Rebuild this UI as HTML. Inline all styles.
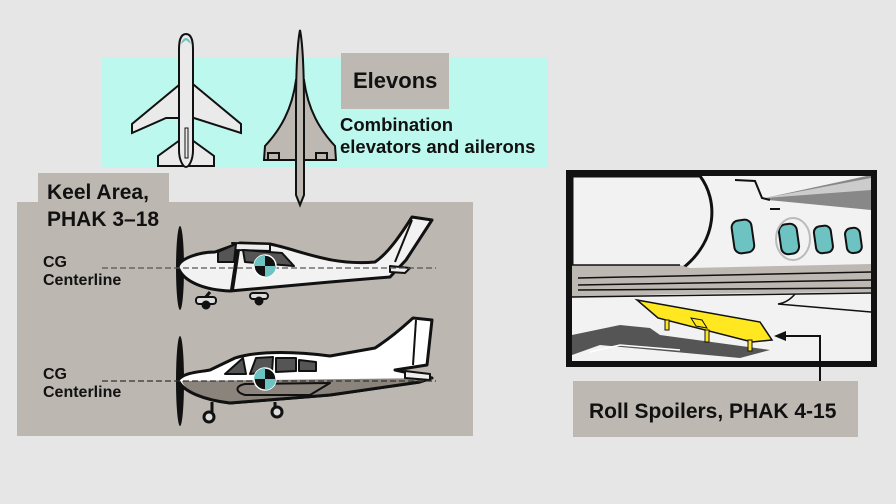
<!DOCTYPE html>
<html><head><meta charset="utf-8"><style>
html,body{margin:0;padding:0;background:#e6e6e6;}
svg{display:block;font-family:"Liberation Sans",sans-serif;}
.t{font-weight:bold;fill:#111;}
</style></head><body>
<svg width="896" height="504" viewBox="0 0 896 504">
<rect width="896" height="504" fill="#e6e6e6"/>
<rect x="102" y="57" width="446" height="110" fill="#bdf8ee"/>
<rect x="341" y="53" width="108" height="56" fill="#bdb8b2"/>
<text class="t" x="353" y="88" font-size="22">Elevons</text>
<text class="t" x="340" y="131" font-size="18.5">Combination</text>
<text class="t" x="340" y="153" font-size="18.5">elevators and ailerons</text>
<rect x="17" y="202" width="456" height="234" fill="#bcb7b1"/>
<rect x="38" y="173" width="131" height="40" fill="#bcb7b1"/>
<text class="t" x="47" y="199" font-size="21">Keel Area,</text>
<text class="t" x="47" y="226" font-size="21">PHAK 3–18</text>
<text class="t" x="43" y="267" font-size="16">CG</text>
<text class="t" x="43" y="285" font-size="16">Centerline</text>
<text class="t" x="43" y="379" font-size="16">CG</text>
<text class="t" x="43" y="397" font-size="16">Centerline</text>

<g stroke="#111" stroke-width="2" fill="#eaeaea">
<path d="M179 85 L132 124 L132 133 L166 118 L194 118 L241 133 L241 124 L194 85 Z"/>
<path d="M180 140 L158 156 L158 166 L214 166 L214 156 L192 140 Z"/>
<path d="M186 34 C180 34 179 42 179 50 L179 150 C179 160 183 167 186 167 C189 167 193 160 193 150 L193 50 C193 42 192 34 186 34 Z"/>
<rect x="185" y="128" width="3" height="30" fill="none" stroke-width="1"/>
</g>
<path d="M181 44 C183 36 189 36 191 44 L186 40 Z" fill="#6cc3c1"/>
<g stroke="#111" stroke-width="2" fill="#bdb8b2">
<path d="M296 80 C292 110 280 130 265 146 L264 160 L336 160 L335 146 C320 130 308 110 304 80 Z"/>
<rect x="268" y="153" width="11" height="7"/><rect x="316" y="153" width="11" height="7"/>
<path d="M300 30 C297 45 296 70 296 110 L296 195 L300 205 L304 195 L304 110 C304 70 303 45 300 30 Z"/>
</g>

<g stroke="#111" stroke-width="3" stroke-linejoin="round">
<ellipse cx="180" cy="268" rx="4" ry="42" fill="#111" stroke="none"/>
<path d="M178 267 C180 258 200 252 215 252 L240 243 L270 244 C300 250 330 266 375 262 C390 252 405 228 412 217 L432 220 L406 260 L390 277 L330 282 L230 291 C205 290 183 282 178 267 Z" fill="#f2f2f2"/>
<path d="M232 243 L270 244 L270 251 L236 250 Z" fill="#eee" stroke-width="2"/>
<path d="M218 252 L236 244 L234 262 L218 262 Z" fill="#555" stroke-width="2"/>
<path d="M243 250 L282 253 L294 266 L245 262 Z" fill="#555" stroke-width="2"/>
<path d="M238 250 L232 290" fill="none" stroke-width="4"/>
<path d="M390 266 L410 268 L405 273 L390 272 Z" fill="#eee" stroke-width="2"/>
<path d="M412 220 L395 262" fill="none" stroke-width="2"/>
<path d="M210 292 L205 298" stroke-width="3"/><rect x="196" y="297" width="20" height="7" rx="3" fill="#ddd" stroke-width="2"/>
<circle cx="206" cy="305" r="3" fill="#111"/>
<rect x="250" y="293" width="18" height="6" rx="3" fill="#ddd" stroke-width="2"/><circle cx="259" cy="301" r="3" fill="#111"/>
</g>
<line x1="102" y1="268" x2="436" y2="268" stroke="#555" stroke-width="1.3" stroke-dasharray="6,3"/>
<g><circle cx="265" cy="266" r="11" fill="#111" stroke="#fff" stroke-width="1.5"/>
<path d="M265 266 L276 266 A11 11 0 0 1 265 277 Z M265 266 L254 266 A11 11 0 0 1 265 255 Z" fill="#6cc3c1"/></g>

<g stroke="#111" stroke-width="3" stroke-linejoin="round">
<ellipse cx="180" cy="381" rx="4" ry="45" fill="#111" stroke="none"/>
<path d="M178 380 C185 372 200 372 210 370 L235 358 C260 350 300 352 330 356 L375 348 C395 335 405 325 413 318 L432 320 L427 365 L395 370 L432 378 L420 382 L330 395 L230 403 C205 400 183 392 178 380 Z" fill="#fff"/>
<path d="M182 381 L432 378 L420 382 L330 395 L230 403 C205 400 185 392 182 381 Z" fill="#8a847c" stroke-width="0"/>
<path d="M178 380 C183 392 205 400 230 403 L330 395 L420 382" fill="none"/>
<path d="M225 374 L243 358 L246 374 Z" fill="#555" stroke-width="2"/>
<path d="M250 374 L256 358 L273 357 L272 372 Z M276 358 L296 358 L296 371 L276 372 Z M299 360 L316 362 L316 371 L299 371 Z" fill="#555" stroke-width="2"/>
<path d="M245 384 L330 383 L310 395 L245 395 C235 392 235 386 245 384 Z" fill="#8a847c" stroke-width="2"/>
<path d="M416 320 L413 365" fill="none" stroke-width="2"/>
<path d="M405 371 L430 374 L430 380 L405 378 Z" fill="#eee" stroke-width="2"/>
<path d="M212 402 L212 415" stroke-width="3"/><circle cx="209" cy="417" r="5" fill="#ddd" stroke-width="3"/>
<path d="M275 402 L275 408" stroke-width="3"/><circle cx="277" cy="412" r="5" fill="#ddd" stroke-width="3"/>
</g>
<line x1="102" y1="381" x2="436" y2="381" stroke="#333" stroke-width="1.3" stroke-dasharray="6,3"/>
<g><circle cx="265" cy="379" r="11" fill="#111" stroke="#fff" stroke-width="1.5"/>
<path d="M265 379 L276 379 A11 11 0 0 1 265 390 Z M265 379 L254 379 A11 11 0 0 1 265 368 Z" fill="#6cc3c1"/></g>

<rect x="569" y="173" width="305" height="191" fill="#f2f2f2" stroke="#111" stroke-width="6"/>
<clipPath id="c"><rect x="572" y="176" width="299" height="185"/></clipPath>
<g clip-path="url(#c)">
<path d="M700 176 C718 200 718 240 683 268 L572 268 L572 176 Z" fill="#f2f2f2" stroke="#111" stroke-width="3"/>
<path d="M765 198 L871 175 L871 210 L768 200 Z" fill="#888"/>
<path d="M765 198 L871 178 L871 190 Z" fill="#ccc"/>
<path d="M735 180 L755 181 L762 198 L770 200" fill="none" stroke="#111" stroke-width="2"/>
<rect x="770" y="208" width="10" height="2" fill="#111"/>
<g fill="#6cc3c1" stroke="#111" stroke-width="2">
<rect x="733" y="220" width="20" height="33" rx="7" transform="rotate(-8 743 237)"/>
<rect x="780" y="224" width="18" height="30" rx="7" transform="rotate(-8 789 239)"/>
<rect x="815" y="226" width="17" height="27" rx="6" transform="rotate(-8 823 240)"/>
<rect x="846" y="228" width="15" height="25" rx="6" transform="rotate(-8 853 241)"/>
</g>
<ellipse cx="793" cy="239" rx="17" ry="21" fill="none" stroke="#bbb" stroke-width="2"/>
<path d="M572 265 L680 265 L690 268 L871 264 L871 292 L680 294 L572 297 Z" fill="#bdb8b2"/>
<g stroke="#111" stroke-width="1.5">
<line x1="572" y1="265" x2="680" y2="265"/>
<line x1="578" y1="278" x2="871" y2="272"/>
<line x1="578" y1="285" x2="871" y2="280"/>
<line x1="578" y1="290" x2="871" y2="288"/>
<line x1="572" y1="297" x2="871" y2="293"/>
</g>
<path d="M795 294 C790 300 785 303 778 304 L871 312" fill="none" stroke="#111" stroke-width="1.5"/>
<path d="M572 335 L620 325 L650 328 L660 335 L770 350 L740 358 L600 345 L572 355 Z" fill="#555"/>
<path d="M590 352 L620 345 L680 350" fill="none" stroke="#fff" stroke-width="1.5"/>
<path d="M637 300 L760 322 L772 340 L752 342 L658 318 Z" fill="#ffe81f" stroke="#111" stroke-width="1.5"/>
<g stroke="#111" stroke-width="1" fill="#ffe81f">
<rect x="665" y="320" width="4" height="10"/><rect x="705" y="330" width="4" height="12"/><rect x="748" y="340" width="4" height="11"/>
<path d="M691 318 L702 320 L707 328 L696 326 Z"/>
</g>
</g>
<path d="M820 381 L820 336 L784 336" fill="none" stroke="#111" stroke-width="2"/>
<path d="M774 336 L786 331 L786 341 Z" fill="#111"/>
<rect x="573" y="381" width="285" height="56" fill="#bdb8b2"/>
<text class="t" x="589" y="418" font-size="21">Roll Spoilers, PHAK 4-15</text>
</svg>
</body></html>
